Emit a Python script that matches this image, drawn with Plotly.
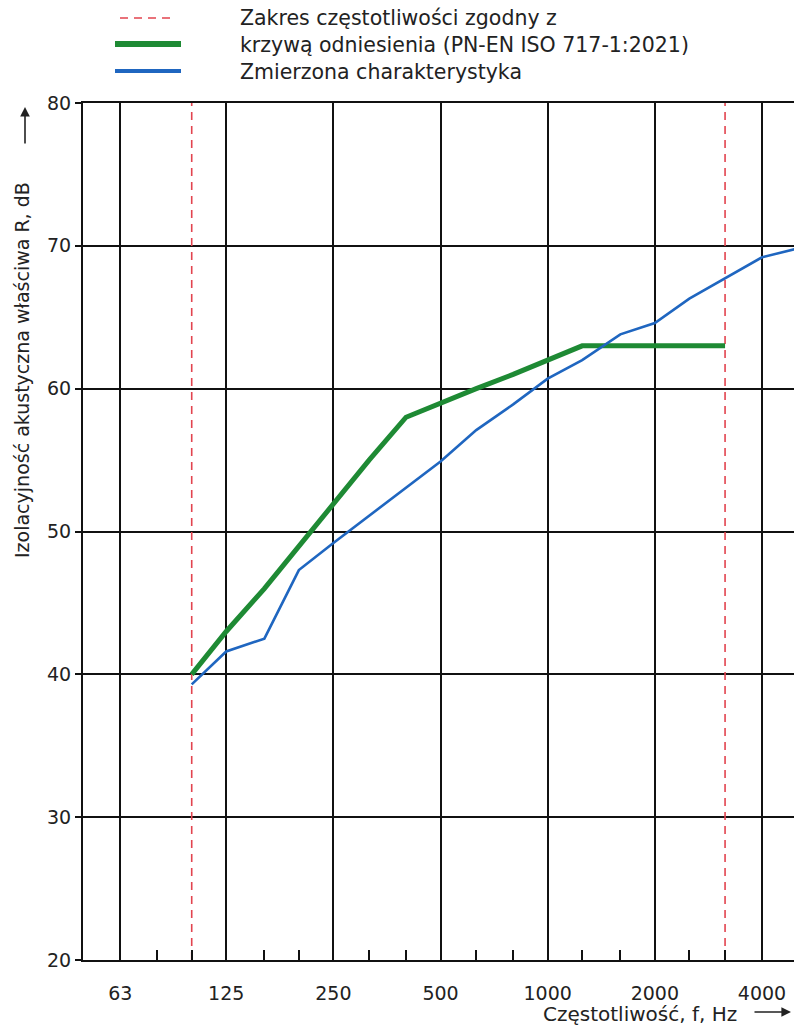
import plotly.graph_objects as go
import numpy as np

# ---- data ----
ref_freq = [100, 125, 160, 200, 250, 315, 400, 500, 630, 800, 1000, 1250, 1600, 2000, 2500, 3150]
ref_db = [40, 43, 46, 49, 52, 55, 58, 59, 60, 61, 62, 63, 63, 63, 63, 63]
meas_freq = [100, 125, 160, 200, 250, 315, 400, 500, 630, 800, 1000, 1250, 1600, 2000, 2500, 3150, 4000, 5000]
meas_db = [39.3, 41.6, 42.5, 47.3, 49.2, 51.1, 53.0, 54.9, 57.1, 58.9, 60.7, 62.0, 63.8, 64.6, 66.3, 67.7, 69.2, 69.8]
range_limits = [100, 3150]
octave_ticks = [63, 125, 250, 500, 1000, 2000, 4000]
octave_labels = ["63", "125", "250", "500", "1000", "2000", "4000"]
third_ticks = [80, 100, 160, 200, 315, 400, 630, 800, 1250, 1600, 2500, 3150]
y_ticks = [20, 30, 40, 50, 60, 70, 80]

legend_texts = ["Zakres częstotliwości zgodny z",
                "krzywą odniesienia (PN-EN ISO 717-1:2021)",
                "Zmierzona charakterystyka"]

W, H = 794, 1025
ML, MR, MT, MB = 83, 0, 103, 65
PW, PH = W - ML - MR, H - MT - MB

def px(xp):
    return (xp - ML) / PW

def py(yp):
    return (H - MB - yp) / PH

RED = "#e2444f"
GREEN = "#1e8a34"
BLUE = "#1f66c0"
TXT = "#222222"
FONT = "DejaVu Sans"

fig = go.Figure()

for f in range_limits:
    fig.add_trace(go.Scatter(x=[f, f], y=[20, 80], mode="lines",
                             line=dict(color=RED, width=1.6, dash="8px,6px"),
                             showlegend=False, hoverinfo="skip"))

fig.add_trace(go.Scatter(x=ref_freq, y=ref_db, mode="lines",
                         line=dict(color=GREEN, width=5), showlegend=False))
fig.add_trace(go.Scatter(x=meas_freq, y=meas_db, mode="lines",
                         line=dict(color=BLUE, width=2.6), showlegend=False))

# custom legend
shapes = []
shapes.append(dict(type="line", xref="paper", yref="paper", x0=px(120), x1=px(173), y0=py(18), y1=py(18),
                   line=dict(color=RED, width=1.6, dash="8px,6px")))
shapes.append(dict(type="line", xref="paper", yref="paper", x0=px(115), x1=px(181), y0=py(44), y1=py(44),
                   line=dict(color=GREEN, width=6)))
shapes.append(dict(type="line", xref="paper", yref="paper", x0=px(115), x1=px(181), y0=py(71), y1=py(71),
                   line=dict(color=BLUE, width=4)))

annotations = []
for t, yy in zip(legend_texts, [18, 45, 72]):
    annotations.append(dict(text=t, xref="paper", yref="paper", x=px(238), y=py(yy),
                            xanchor="left", yanchor="middle", showarrow=False,
                            font=dict(family=FONT, size=20.5, color=TXT)))

# axis titles
annotations.append(dict(text="Izolacyjność akustyczna właściwa R, dB", xref="paper", yref="paper",
                        x=px(22), y=py(370), textangle=-90, showarrow=False,
                        xanchor="center", yanchor="middle",
                        font=dict(family=FONT, size=19, color=TXT)))
annotations.append(dict(text="Częstotliwość, f, Hz", xref="paper", yref="paper",
                        x=px(640), y=py(1014), showarrow=False,
                        xanchor="center", yanchor="middle",
                        font=dict(family=FONT, size=20, color=TXT)))
# arrows
annotations.append(dict(text="", xref="paper", yref="paper", x=px(791), y=py(1012),
                        ax=-38, ay=0, showarrow=True, arrowhead=2, arrowsize=1.2,
                        arrowwidth=1.6, arrowcolor=TXT))
annotations.append(dict(text="", xref="paper", yref="paper", x=px(25), y=py(107),
                        ax=0, ay=38, showarrow=True, arrowhead=2, arrowsize=1.2,
                        arrowwidth=1.6, arrowcolor=TXT))

fig.update_layout(
    width=W, height=H,
    margin=dict(l=ML, r=MR, t=MT, b=MB, pad=0),
    paper_bgcolor="white", plot_bgcolor="white",
    shapes=shapes, annotations=annotations,
    showlegend=False,
    font=dict(family=FONT, color=TXT),
)

fig.update_xaxes(type="log", range=[np.log10(49.5), np.log10(4920)],
                 tickvals=octave_ticks, ticktext=octave_labels,
                 showgrid=True, gridcolor="#111111", gridwidth=2,
                 ticks="", ticklabelstandoff=15,
                 tickfont=dict(family=FONT, size=19, color=TXT),
                 showline=True, linecolor="#111111", linewidth=2, mirror=True,
                 minor=dict(tickvals=third_ticks, ticks="inside", ticklen=10,
                            tickcolor="#111111", tickwidth=2, showgrid=False),
                 zeroline=False)
fig.update_yaxes(range=[20, 80], tickvals=y_ticks,
                 showgrid=True, gridcolor="#111111", gridwidth=2,
                 ticks="outside", ticklen=6, tickwidth=2, tickcolor="#111111",
                 tickfont=dict(family=FONT, size=19, color=TXT),
                 showline=True, linecolor="#111111", linewidth=2, mirror=False,
                 zeroline=False)

fig.write_html("out.html", config={"displayModeBar": False},
               post_script="document.body.style.margin='0px';document.body.style.overflow='hidden';")
